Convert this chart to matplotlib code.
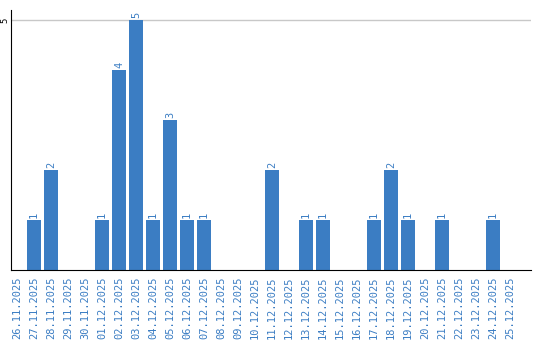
import matplotlib
matplotlib.use("Agg")
import matplotlib.pyplot as plt

dates = ["26.11.2025", "27.11.2025", "28.11.2025", "29.11.2025", "30.11.2025",
         "01.12.2025", "02.12.2025", "03.12.2025", "04.12.2025", "05.12.2025",
         "06.12.2025", "07.12.2025", "08.12.2025", "09.12.2025", "10.12.2025",
         "11.12.2025", "12.12.2025", "13.12.2025", "14.12.2025", "15.12.2025",
         "16.12.2025", "17.12.2025", "18.12.2025", "19.12.2025", "20.12.2025",
         "21.12.2025", "22.12.2025", "23.12.2025", "24.12.2025", "25.12.2025"]
counts = [0, 1, 2, 0, 0, 1, 4, 5, 1, 3, 1, 1, 0, 0, 0,
          2, 0, 1, 1, 0, 0, 1, 2, 1, 0, 1, 0, 0, 1, 0]

blue = "#3b7dc3"
mono = "DejaVu Sans Mono"

fig = plt.figure(figsize=(5.4, 3.4), dpi=100)
ax = fig.add_axes([11 / 540, 70 / 340, 520 / 540, 260 / 340])

x = list(range(len(dates)))
ax.bar(x, counts, width=0.82, color=blue, zorder=2)

# value labels above the bars
for xi, c in zip(x, counts):
    if c > 0:
        ax.text(xi, c + 0.05, str(c), rotation=90, ha="center", va="bottom",
                color=blue, fontsize=7.5, family=mono)

ax.set_xlim(-0.35, 30.24)
ax.set_ylim(0, 5.2)
ax.set_yticks([5])
ax.set_yticklabels(["5"], rotation=90, va="center", fontsize=6.5, family=mono)
ax.axhline(5, color="#c8c8c8", lw=1, zorder=1)

ax.set_xticks(x)
ax.set_xticklabels(dates, rotation=90, color=blue, fontsize=7.5, family=mono)
ax.tick_params(axis="x", length=0, pad=5)
ax.tick_params(axis="y", length=0, pad=1)

for s in ["top", "right"]:
    ax.spines[s].set_visible(False)
ax.spines["left"].set_color("black")
ax.spines["bottom"].set_color("black")

fig.savefig("out.png", dpi=100)
